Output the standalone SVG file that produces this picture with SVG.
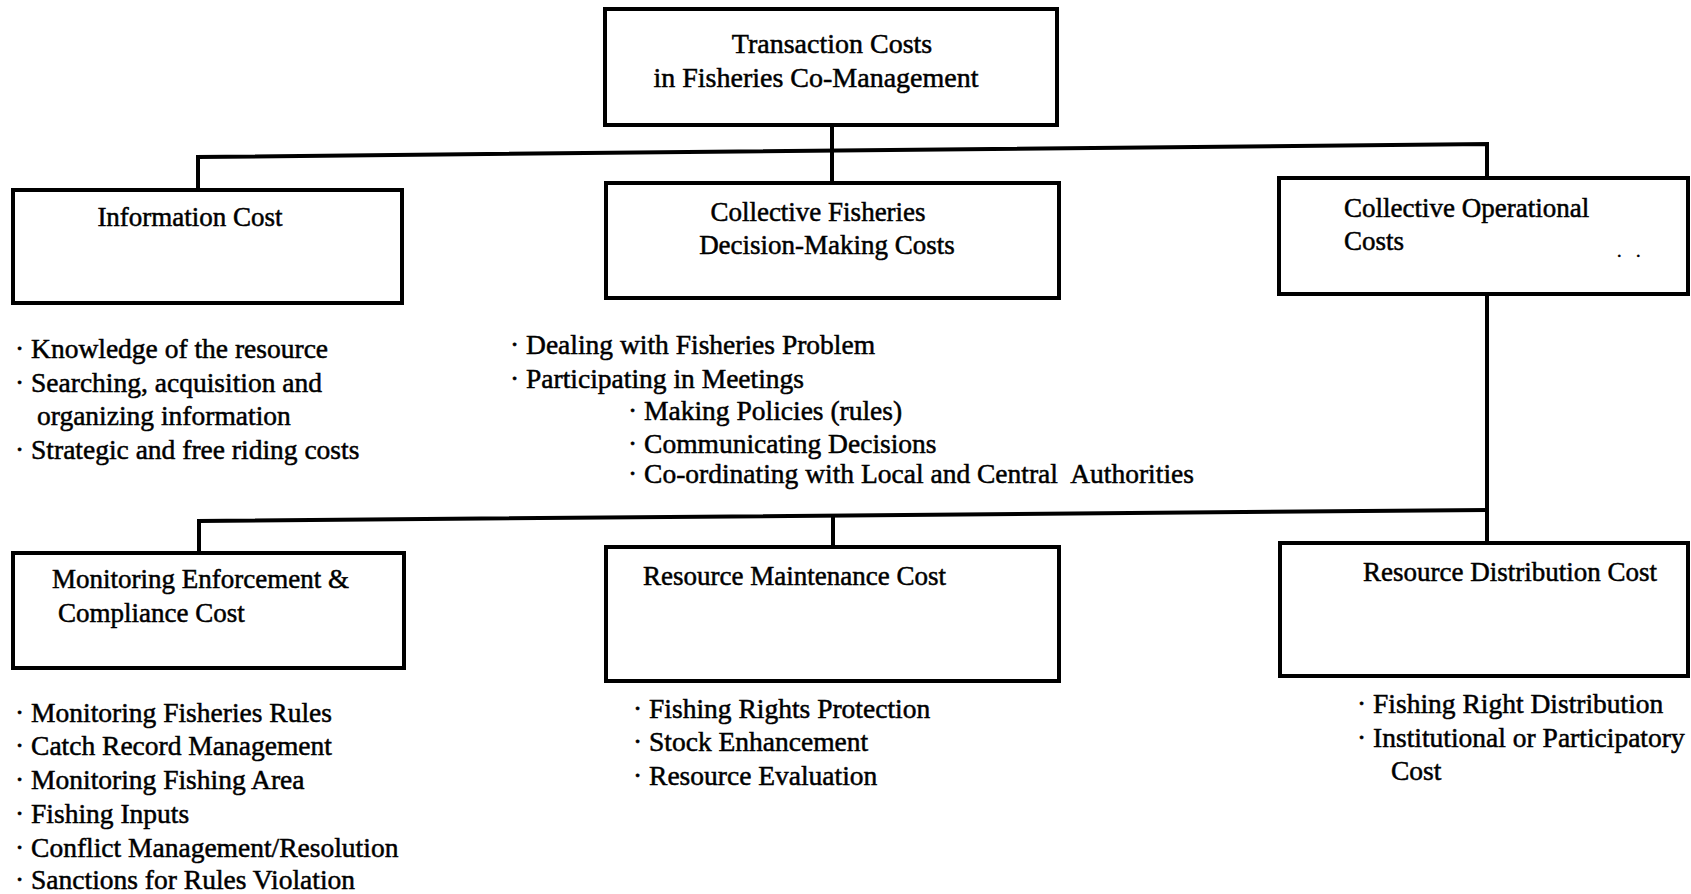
<svg xmlns="http://www.w3.org/2000/svg" width="1691" height="894" viewBox="0 0 1691 894">
  <style>
    .box { fill: #ffffff; stroke: #000000; stroke-width: 4; }
    .wire { fill: none; stroke: #000000; stroke-width: 4; stroke-linejoin: miter; stroke-linecap: butt; }
    .title, .item { font-family: "Liberation Serif", "Times New Roman", serif; fill: #000000; stroke: #000000; stroke-width: 0.5; }
    .title { font-size: 27px; }
    .item { font-size: 27.5px; }
    .mid { text-anchor: middle; }
  </style>

  <rect width="1691" height="894" fill="#ffffff"/>

  <!-- connectors: upper bus, lower bus and the trunk lines -->
  <g id="connectors">
    <path class="wire" d="M832,125 V185"/>
    <path class="wire" d="M198,190 V157 L1487,144 V178"/>
    <path class="wire" d="M1487,282 V543"/>
    <path class="wire" d="M199,553 V521 L1487,510"/>
    <path class="wire" d="M833,515 V547"/>
  </g>

  <!-- root -->
  <g id="transaction-costs">
    <rect class="box" x="605" y="9" width="452" height="116"/>
    <text class="title mid" x="832" y="53" style="font-size:28px">Transaction Costs</text>
    <text class="title mid" x="816" y="87" style="font-size:28px">in Fisheries Co-Management</text>
  </g>

  <!-- upper row -->
  <g id="information-cost">
    <rect class="box" x="13" y="190" width="389" height="113"/>
    <text class="title mid" x="190" y="226">Information Cost</text>
    <text class="item" x="15" y="358">· Knowledge of the resource</text>
    <text class="item" x="15" y="392">· Searching, acquisition and</text>
    <text class="item" x="37" y="425">organizing information</text>
    <text class="item" x="15" y="459">· Strategic and free riding costs</text>
  </g>

  <g id="decision-making-costs">
    <rect class="box" x="606" y="183" width="453" height="115"/>
    <text class="title mid" x="818" y="221">Collective Fisheries</text>
    <text class="title mid" x="827" y="254">Decision-Making Costs</text>
    <text class="item" x="510" y="354">· Dealing with Fisheries Problem</text>
    <text class="item" x="510" y="388">· Participating in Meetings</text>
    <text class="item" x="628" y="420">· Making Policies (rules)</text>
    <text class="item" x="628" y="453">· Communicating Decisions</text>
    <text class="item" x="628" y="483" style="white-space:pre">· Co-ordinating with Local and Central  Authorities</text>
  </g>

  <g id="operational-costs">
    <rect class="box" x="1279" y="178" width="409" height="116"/>
    <text class="title" x="1344" y="217">Collective Operational</text>
    <text class="title" x="1344" y="250">Costs</text>
    <text class="title" x="1617 1627 1636" y="257" style="font-size:18px">. .</text>
  </g>

  <!-- lower row -->
  <g id="monitoring-cost">
    <rect class="box" x="13" y="553" width="391" height="115"/>
    <text class="title" x="52" y="588">Monitoring Enforcement &amp;</text>
    <text class="title" x="58" y="622">Compliance Cost</text>
    <text class="item" x="15" y="722">· Monitoring Fisheries Rules</text>
    <text class="item" x="15" y="755">· Catch Record Management</text>
    <text class="item" x="15" y="789">· Monitoring Fishing Area</text>
    <text class="item" x="15" y="823">· Fishing Inputs</text>
    <text class="item" x="15" y="857">· Conflict Management/Resolution</text>
    <text class="item" x="15" y="889">· Sanctions for Rules Violation</text>
  </g>

  <g id="maintenance-cost">
    <rect class="box" x="606" y="547" width="453" height="134"/>
    <text class="title" x="643" y="585">Resource Maintenance Cost</text>
    <text class="item" x="633" y="718">· Fishing Rights Protection</text>
    <text class="item" x="633" y="751">· Stock Enhancement</text>
    <text class="item" x="633" y="785">· Resource Evaluation</text>
  </g>

  <g id="distribution-cost">
    <rect class="box" x="1280" y="543" width="408" height="133"/>
    <text class="title" x="1363" y="581">Resource Distribution Cost</text>
    <text class="item" x="1357" y="713">· Fishing Right Distribution</text>
    <text class="item" x="1357" y="747">· Institutional or Participatory</text>
    <text class="item" x="1391" y="780">Cost</text>
  </g>
</svg>
